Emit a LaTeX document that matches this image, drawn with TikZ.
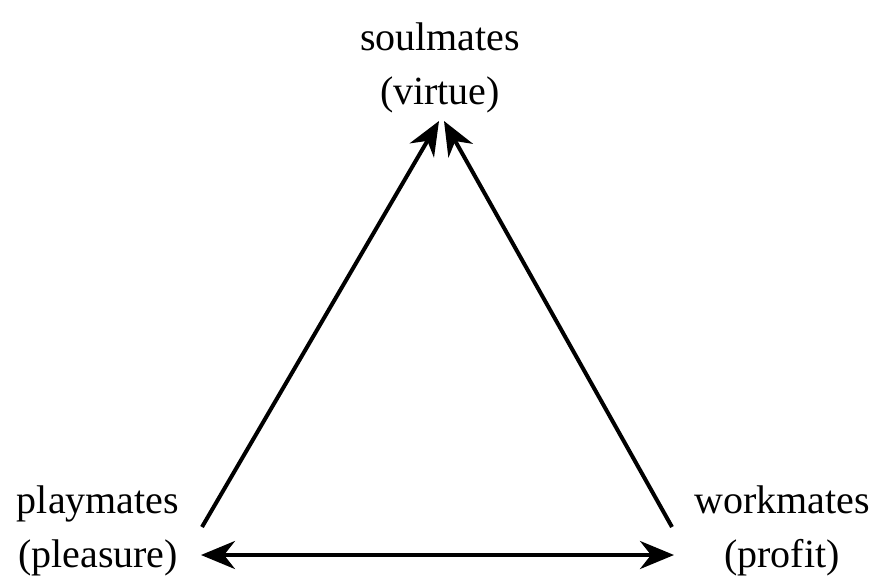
\documentclass[tikz,border=0pt]{standalone}
\usepackage{fontspec}
\setmainfont{Liberation Serif}
\usetikzlibrary{arrows.meta}
\begin{document}
\begin{tikzpicture}[x=1pt,y=-1pt,
  lbl/.style={align=center,font=\fontsize{40}{54}\selectfont,inner sep=0pt},
  tip/.tip={Stealth[length=34pt,width=28pt,inset=11pt]},
  conn/.style={line width=4pt,-tip},
  conn2/.style={line width=4pt,tip-tip}]
\useasboundingbox (0,0) rectangle (880,581);
\node[lbl] (soul) at (440,68) {soulmates\\(virtue)};
\node[lbl] (play) at (98,531) {playmates\\(pleasure)};
\node[lbl] (work) at (782,531) {workmates\\(profit)};
\coordinate (pa) at (202,527);
\coordinate (wa) at (672,527);
\coordinate (st1) at (439,121);
\coordinate (st2) at (444,121);
\coordinate (pb) at (201,555);
\coordinate (wb) at (674,555);
\draw[conn] (pa) -- (st1);
\draw[conn] (wa) -- (st2);
\draw[conn2] (pb) -- (wb);
\end{tikzpicture}
\end{document}
